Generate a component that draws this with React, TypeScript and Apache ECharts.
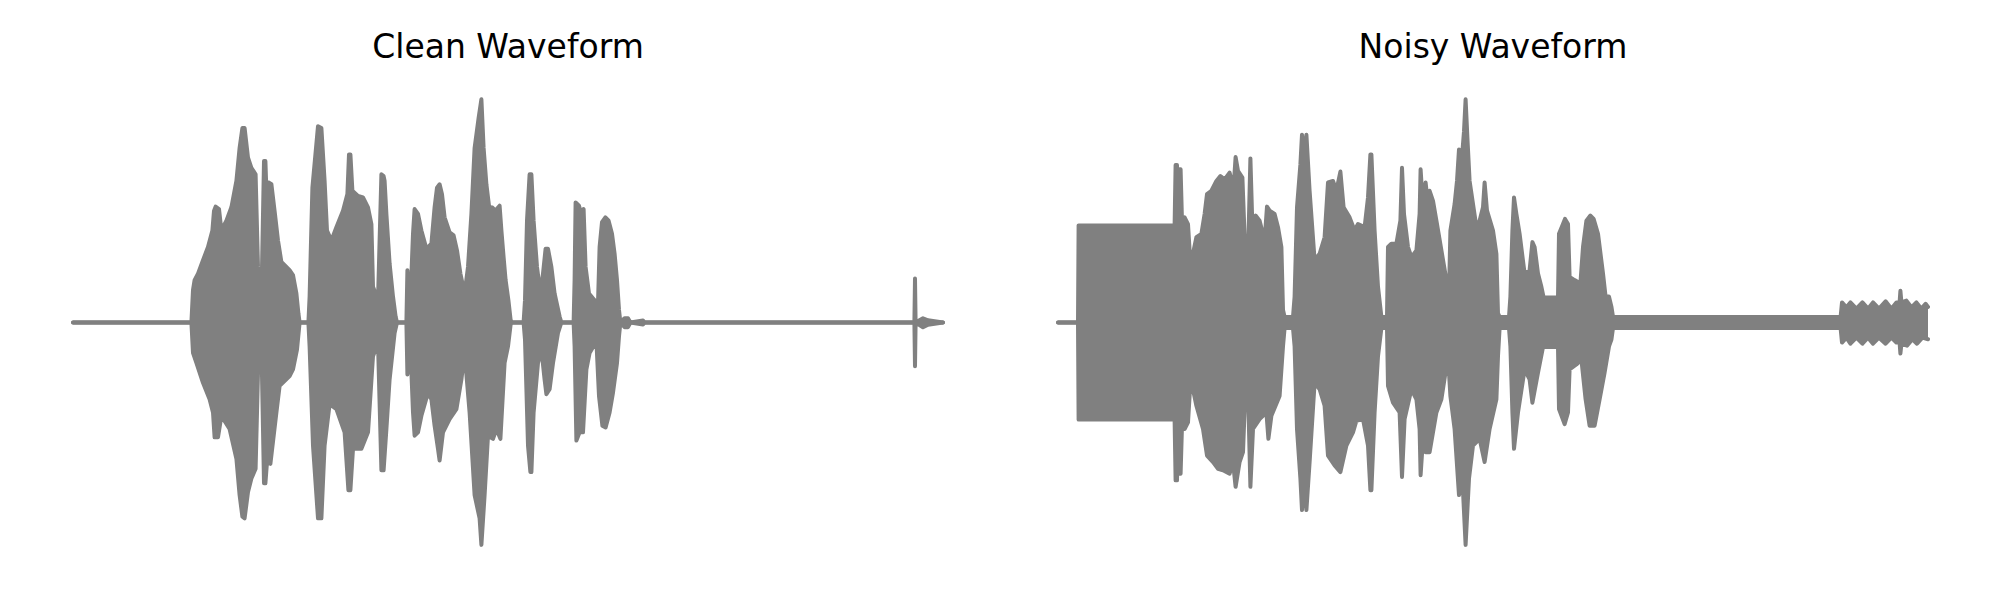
import React, { useEffect, useRef } from "react";
import * as echarts from "echarts";

// time in seconds, amplitude normalised to the clip's peak
const titles = ["Clean Waveform", "Noisy Waveform"];

const cleanUpper: [number, number][] = [[0,0],[0.592,0],[0.6,0.145],[0.608,0.19],[0.625,0.219],[0.65,0.279],[0.675,0.338],[0.697,0.412],[0.705,0.5],[0.713,0.519],[0.73,0.508],[0.742,0.412],[0.767,0.456],[0.792,0.516],[0.817,0.634],[0.833,0.782],[0.847,0.871],[0.858,0.871],[0.875,0.738],[0.892,0.693],[0.913,0.664],[0.925,0.249],[0.942,0.1],[0.955,0.723],[0.962,0.723],[0.967,0.59],[0.978,0.627],[0.992,0.619],[1.008,0.5],[1.025,0.367],[1.042,0.271],[1.083,0.234],[1.1,0.212],[1.117,0.13],[1.127,0.041],[1.133,0],[1.177,0],[1.183,0.116],[1.197,0.604],[1.225,0.879],[1.242,0.871],[1.258,0.634],[1.27,0.412],[1.292,0.367],[1.317,0.427],[1.35,0.501],[1.372,0.575],[1.38,0.753],[1.387,0.753],[1.397,0.59],[1.425,0.567],[1.45,0.56],[1.475,0.516],[1.492,0.441],[1.5,0.16],[1.525,0.1],[1.542,0.664],[1.553,0.656],[1.558,0.634],[1.567,0.486],[1.583,0.264],[1.6,0.116],[1.613,0.027],[1.62,0],[1.667,0],[1.672,0.234],[1.678,0.1],[1.687,0.1],[1.7,0.397],[1.708,0.508],[1.725,0.486],[1.742,0.412],[1.767,0.33],[1.792,0.353],[1.808,0.516],[1.82,0.604],[1.833,0.619],[1.845,0.575],[1.858,0.471],[1.883,0.404],[1.903,0.39],[1.92,0.323],[1.937,0.219],[1.958,0.13],[1.975,0.249],[1.992,0.486],[2.008,0.782],[2.028,0.916],[2.042,1.0],[2.053,0.782],[2.067,0.619],[2.083,0.501],[2.095,0.516],[2.112,0.501],[2.133,0.523],[2.142,0.412],[2.153,0.293],[2.163,0.19],[2.177,0.1],[2.188,0.012],[2.193,0],[2.253,0],[2.26,0.1],[2.27,0.456],[2.283,0.664],[2.292,0.664],[2.303,0.456],[2.32,0.249],[2.337,0.13],[2.35,0.219],[2.363,0.33],[2.375,0.33],[2.392,0.249],[2.408,0.13],[2.433,0.027],[2.442,0],[2.503,0],[2.508,0.19],[2.513,0.538],[2.53,0.523],[2.542,0.486],[2.553,0.508],[2.563,0.249],[2.58,0.13],[2.608,0.1],[2.625,0.086],[2.633,0.338],[2.645,0.449],[2.662,0.471],[2.678,0.456],[2.695,0.397],[2.708,0.308],[2.72,0.19],[2.73,0.056],[2.737,0],[2.758,0.019],[2.775,0.019],[2.787,0],[2.85,0.009],[2.858,0],[4.207,0],[4.21,0.197],[4.213,0],[4.25,0.019],[4.275,0.01],[4.35,0]];

const cleanLower: [number, number][] = [[0,0],[0.592,0],[0.6,-0.136],[0.617,-0.181],[0.65,-0.27],[0.683,-0.344],[0.7,-0.403],[0.708,-0.514],[0.725,-0.514],[0.742,-0.418],[0.783,-0.477],[0.817,-0.61],[0.833,-0.773],[0.847,-0.87],[0.858,-0.877],[0.875,-0.759],[0.892,-0.699],[0.913,-0.655],[0.925,-0.225],[0.942,-0.092],[0.955,-0.72],[0.962,-0.72],[0.97,-0.625],[0.987,-0.633],[1.017,-0.403],[1.033,-0.284],[1.083,-0.24],[1.1,-0.21],[1.12,-0.121],[1.133,0],[1.177,0],[1.183,-0.107],[1.2,-0.551],[1.225,-0.877],[1.242,-0.877],[1.258,-0.551],[1.283,-0.366],[1.317,-0.388],[1.358,-0.492],[1.377,-0.751],[1.387,-0.751],[1.4,-0.566],[1.442,-0.566],[1.475,-0.492],[1.5,-0.151],[1.525,-0.092],[1.542,-0.662],[1.553,-0.662],[1.567,-0.477],[1.583,-0.255],[1.608,-0.047],[1.62,0],[1.667,0],[1.672,-0.233],[1.678,-0.107],[1.687,-0.107],[1.7,-0.403],[1.708,-0.507],[1.725,-0.492],[1.742,-0.418],[1.775,-0.314],[1.792,-0.344],[1.808,-0.462],[1.825,-0.566],[1.833,-0.618],[1.85,-0.492],[1.883,-0.433],[1.917,-0.388],[1.942,-0.255],[1.958,-0.136],[1.983,-0.403],[2.008,-0.773],[2.033,-0.877],[2.042,-0.996],[2.058,-0.773],[2.075,-0.507],[2.1,-0.521],[2.117,-0.477],[2.137,-0.521],[2.158,-0.181],[2.175,-0.107],[2.188,-0.01],[2.193,0],[2.253,0],[2.26,-0.077],[2.275,-0.551],[2.287,-0.67],[2.292,-0.67],[2.303,-0.403],[2.325,-0.181],[2.342,-0.121],[2.358,-0.255],[2.367,-0.321],[2.383,-0.299],[2.4,-0.181],[2.425,-0.047],[2.442,0],[2.503,0],[2.508,-0.107],[2.517,-0.529],[2.533,-0.492],[2.55,-0.492],[2.567,-0.21],[2.583,-0.136],[2.617,-0.084],[2.63,-0.329],[2.647,-0.462],[2.663,-0.47],[2.683,-0.403],[2.7,-0.314],[2.72,-0.181],[2.73,-0.062],[2.737,0],[2.758,-0.021],[2.775,-0.021],[2.787,0],[2.85,-0.009],[2.858,0],[4.207,0],[4.21,-0.196],[4.213,0],[4.25,-0.021],[4.275,-0.01],[4.35,0]];

const noisyUpper: [number, number][] = [[0,0],[0.1,0],[0.103,0.435],[0.583,0.435],[0.588,0.705],[0.595,0.705],[0.6,0.456],[0.608,0.686],[0.613,0.686],[0.62,0.456],[0.633,0.471],[0.65,0.441],[0.662,0.264],[0.675,0.308],[0.692,0.382],[0.717,0.397],[0.733,0.486],[0.745,0.575],[0.767,0.59],[0.792,0.634],[0.812,0.656],[0.833,0.641],[0.858,0.671],[0.878,0.604],[0.888,0.741],[0.9,0.679],[0.922,0.649],[0.935,0.338],[0.952,0.367],[0.962,0.735],[0.972,0.427],[0.988,0.479],[1.008,0.456],[1.033,0.367],[1.045,0.519],[1.058,0.501],[1.083,0.486],[1.1,0.427],[1.117,0.338],[1.125,0.056],[1.133,0.025],[1.175,0.025],[1.183,0.116],[1.195,0.516],[1.212,0.708],[1.22,0.841],[1.23,0.738],[1.242,0.841],[1.258,0.59],[1.283,0.279],[1.308,0.308],[1.333,0.382],[1.35,0.627],[1.375,0.634],[1.392,0.59],[1.412,0.676],[1.428,0.516],[1.458,0.471],[1.483,0.412],[1.5,0.441],[1.533,0.427],[1.55,0.56],[1.562,0.753],[1.567,0.753],[1.583,0.412],[1.6,0.16],[1.617,0.025],[1.645,0.025],[1.65,0.338],[1.667,0.353],[1.692,0.353],[1.712,0.456],[1.72,0.693],[1.73,0.486],[1.75,0.338],[1.767,0.293],[1.792,0.323],[1.808,0.486],[1.813,0.686],[1.825,0.516],[1.838,0.627],[1.848,0.545],[1.858,0.59],[1.875,0.545],[1.892,0.456],[1.917,0.323],[1.942,0.19],[1.955,0.13],[1.962,0.412],[1.983,0.53],[1.995,0.634],[2.005,0.775],[2.017,0.708],[2.03,0.856],[2.038,1.0],[2.047,0.827],[2.058,0.634],[2.092,0.427],[2.108,0.456],[2.125,0.516],[2.133,0.627],[2.145,0.501],[2.175,0.412],[2.192,0.308],[2.2,0.041],[2.208,0.025],[2.255,0.025],[2.262,0.116],[2.272,0.412],[2.28,0.56],[2.292,0.486],[2.308,0.397],[2.333,0.219],[2.358,0.234],[2.372,0.36],[2.383,0.338],[2.4,0.219],[2.417,0.16],[2.428,0.112],[2.5,0.112],[2.505,0.397],[2.525,0.441],[2.535,0.464],[2.55,0.441],[2.558,0.204],[2.583,0.19],[2.612,0.175],[2.625,0.338],[2.642,0.456],[2.662,0.479],[2.678,0.464],[2.7,0.397],[2.725,0.219],[2.738,0.116],[2.755,0.116],[2.767,0.071],[2.775,0.025],[3.913,0.025],[3.92,0.09],[3.942,0.068],[3.962,0.09],[3.992,0.062],[4.022,0.09],[4.05,0.062],[4.075,0.09],[4.105,0.062],[4.138,0.095],[4.167,0.062],[4.192,0.09],[4.208,0.09],[4.212,0.142],[4.217,0.09],[4.242,0.098],[4.267,0.068],[4.292,0.09],[4.317,0.062],[4.338,0.084],[4.35,0.07]];

const noisyLower: [number, number][] = [[0,0],[0.1,0],[0.103,-0.435],[0.583,-0.435],[0.588,-0.707],[0.595,-0.707],[0.6,-0.462],[0.608,-0.677],[0.613,-0.677],[0.62,-0.462],[0.633,-0.477],[0.65,-0.447],[0.662,-0.27],[0.675,-0.299],[0.692,-0.373],[0.725,-0.477],[0.745,-0.596],[0.775,-0.625],[0.8,-0.655],[0.825,-0.662],[0.858,-0.677],[0.875,-0.625],[0.888,-0.736],[0.908,-0.625],[0.925,-0.581],[0.935,-0.344],[0.952,-0.373],[0.962,-0.736],[0.975,-0.477],[1.008,-0.433],[1.042,-0.403],[1.052,-0.521],[1.067,-0.418],[1.108,-0.329],[1.125,-0.107],[1.133,-0.025],[1.175,-0.025],[1.183,-0.107],[1.195,-0.477],[1.212,-0.699],[1.22,-0.84],[1.23,-0.699],[1.242,-0.84],[1.258,-0.625],[1.283,-0.27],[1.308,-0.299],[1.333,-0.373],[1.35,-0.596],[1.383,-0.64],[1.412,-0.67],[1.442,-0.551],[1.475,-0.492],[1.492,-0.44],[1.525,-0.433],[1.55,-0.551],[1.562,-0.751],[1.567,-0.751],[1.583,-0.403],[1.6,-0.151],[1.617,-0.025],[1.645,-0.025],[1.65,-0.284],[1.675,-0.359],[1.708,-0.403],[1.72,-0.692],[1.733,-0.433],[1.767,-0.299],[1.792,-0.344],[1.808,-0.477],[1.813,-0.684],[1.825,-0.521],[1.838,-0.581],[1.858,-0.581],[1.892,-0.403],[1.917,-0.344],[1.95,-0.151],[1.962,-0.329],[1.983,-0.477],[2.005,-0.773],[2.022,-0.699],[2.038,-0.996],[2.055,-0.699],[2.075,-0.551],[2.108,-0.521],[2.133,-0.625],[2.158,-0.477],[2.192,-0.344],[2.2,-0.151],[2.208,-0.025],[2.255,-0.025],[2.262,-0.107],[2.272,-0.403],[2.28,-0.566],[2.3,-0.403],[2.333,-0.21],[2.358,-0.255],[2.372,-0.359],[2.4,-0.225],[2.425,-0.11],[2.5,-0.11],[2.505,-0.388],[2.533,-0.455],[2.55,-0.403],[2.558,-0.21],[2.592,-0.188],[2.617,-0.166],[2.638,-0.344],[2.658,-0.462],[2.683,-0.462],[2.708,-0.344],[2.733,-0.225],[2.755,-0.107],[2.767,-0.077],[2.775,-0.025],[3.913,-0.025],[3.92,-0.09],[3.942,-0.068],[3.962,-0.095],[3.992,-0.068],[4.022,-0.095],[4.05,-0.068],[4.075,-0.095],[4.105,-0.068],[4.138,-0.095],[4.167,-0.068],[4.192,-0.09],[4.208,-0.09],[4.212,-0.139],[4.217,-0.095],[4.245,-0.104],[4.272,-0.075],[4.295,-0.095],[4.322,-0.068],[4.35,-0.075]];

const GRAY = "#808080";

function waveSeries(data: [number, number][], idx: number, origin: number) {
  return {
    type: "line",
    xAxisIndex: idx,
    yAxisIndex: idx,
    data,
    showSymbol: false,
    symbol: "none",
    silent: true,
    lineStyle: { color: GRAY, width: 4, join: "round", cap: "round" },
    areaStyle: { color: GRAY, opacity: 1, origin },
  };
}

export default function App() {
  const ref = useRef<HTMLDivElement>(null);
  useEffect(() => {
    if (!ref.current) return;
    const chart = echarts.init(ref.current, undefined, { renderer: "svg" });
    const gridLefts = [73, 1058];
    chart.setOption({
      animation: false,
      backgroundColor: "#ffffff",
      grid: gridLefts.map((l) => ({ left: l, top: 97, width: 870, height: 451 })),
      xAxis: gridLefts.map((_, i) => ({ type: "value", gridIndex: i, min: 0, max: 4.35, show: false })),
      yAxis: gridLefts.map((_, i) => ({ type: "value", gridIndex: i, min: -1.01, max: 1.01, show: false })),
      graphic: titles.map((t, i) => ({
        type: "text",
        x: gridLefts[i] + 435,
        y: 46,
        style: {
          text: t,
          fontFamily: "DejaVu Sans",
          fontSize: 33,
          fill: "#000000",
          align: "center",
          verticalAlign: "middle",
        },
      })),
      series: [
        waveSeries(cleanUpper, 0, -0.008),
        waveSeries(cleanLower, 0, 0.008),
        waveSeries(noisyUpper, 1, -0.008),
        waveSeries(noisyLower, 1, 0.008),
      ],
    });
    return () => chart.dispose();
  }, []);
  return (
    <div
      ref={ref}
      style={{ position: "fixed", left: 0, top: 0, width: 2000, height: 600, background: "#fff" }}
    />
  );
}
